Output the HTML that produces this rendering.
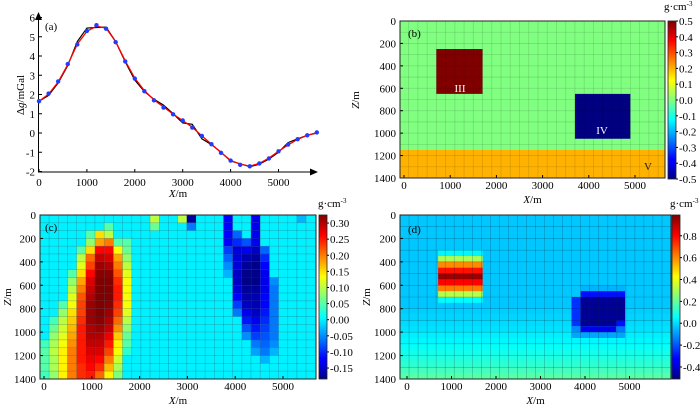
<!DOCTYPE html>
<html><head><meta charset="utf-8"><style>
html,body{margin:0;padding:0;background:#fff;}
svg{display:block;font-family:"Liberation Serif",serif;font-size:11px;}
</style></head><body>
<svg id="fig" width="700" height="406" viewBox="0 0 700 406" xmlns="http://www.w3.org/2000/svg">
<defs>
<linearGradient id="jetV" x1="0" y1="1" x2="0" y2="0">
<stop offset="0" stop-color="#000080"/><stop offset="0.11" stop-color="#0000ff"/><stop offset="0.125" stop-color="#0000ff"/><stop offset="0.375" stop-color="#00ffff"/><stop offset="0.625" stop-color="#ffff00"/><stop offset="0.875" stop-color="#ff0000"/><stop offset="1" stop-color="#800000"/>
</linearGradient>
</defs>
<g id="pa"></g>
<g id="pb"></g>
<g id="pc"></g>
<g id="pd"></g>
</svg>
<script>
// ---------- data ----------
const aX=[0,200,400,600,800,1000,1200,1400,1600,1800,2000,2200,2400,2600,2800,3000,3200,3400,3600,3800,4000,4200,4400,4600,4800,5000,5200,5400,5600,5800];
const aObserved=[1.65,2.05,2.68,3.58,4.6,5.3,5.6,5.42,4.72,3.72,2.83,2.17,1.7,1.32,0.97,0.65,0.28,-0.15,-0.58,-1.03,-1.43,-1.65,-1.73,-1.58,-1.32,-0.95,-0.6,-0.32,-0.12,0.03];
const aRed=[1.65,2.02,2.65,3.55,4.62,5.28,5.55,5.45,4.75,3.75,2.85,2.2,1.72,1.35,0.98,0.65,0.3,-0.15,-0.58,-1.02,-1.42,-1.62,-1.72,-1.58,-1.3,-0.95,-0.62,-0.33,-0.12,0.02];
const aBlack=[1.65,1.95,2.6,3.5,4.75,5.45,5.48,5.5,4.75,3.7,2.75,2.15,1.75,1.45,1.0,0.52,0.45,-0.3,-0.6,-1.0,-1.45,-1.6,-1.75,-1.62,-1.35,-1.0,-0.5,-0.3,-0.12,0.0];
const aXTicks=[0,1000,2000,3000,4000,5000];
const aYTicks=[-2,-1,0,1,2,3,4,5,6];
const zTicks=[0,200,400,600,800,1000,1200,1400];
// panel b model blocks: x0,x1,z0,z1,density
const bBlockX0=[-100,700,3700];
const bBlockX1=[5900,1700,4900];
const bBlockZ0=[1150,250,650];
const bBlockZ1=[1400,650,1050];
const bBlockRho=[0.2,0.5,-0.5];
const bBgRho=0.0;
const bCbTicks=[0.5,0.4,0.3,0.2,0.1,0.0,-0.1,-0.2,-0.3,-0.4,-0.5];
// panel c inversion grid (units 0.01 g/cm3), 21 rows x 30 cols
const cGrid=[
[0,0,0,0,0,0,0,0,0,0,0,0,10,0,0,10,-17,0,0,0,-12,0,0,-13,0,0,0,0,-3,0],
[0,0,0,0,0,0,0,5,0,0,0,0,6,0,0,0,-6,0,0,0,-12,0,0,-13,0,0,0,0,0,0],
[0,0,0,0,0,5,15,10,0,0,0,0,0,0,0,0,0,0,0,0,-12,-7,0,-13,0,0,0,0,0,0],
[0,0,0,0,0,8,18,20,5,5,0,0,0,0,0,0,0,0,0,0,-12,-10,-8,-13,0,0,0,0,0,0],
[0,0,0,0,5,15,26,26,13,6,0,0,0,0,0,0,0,0,0,0,-9,-14,-13,-15,-7,0,0,0,0,0],
[0,0,0,0,10,21,29,28,18,8,0,0,0,0,0,0,0,0,0,0,-7,-14,-16,-17,-10,0,0,0,0,0],
[0,0,0,0,12,23,31,30,20,10,0,0,0,0,0,0,0,0,0,0,-5,-14,-17,-18,-12,0,0,0,0,0],
[0,0,0,5,15,26,32,32,22,12,0,0,0,0,0,0,0,0,0,0,-3,-15,-18,-18,-13,0,0,0,0,0],
[0,0,0,8,18,28,33,33,24,13,0,0,0,0,0,0,0,0,0,0,0,-15,-18,-18,-13,-5,0,0,0,0],
[0,0,0,10,20,29,33,33,25,13,0,0,0,0,0,0,0,0,0,0,0,-14,-17,-17,-13,-6,0,0,0,0],
[0,0,0,12,22,30,34,33,25,13,0,0,0,0,0,0,0,0,0,0,0,-12,-16,-16,-12,-6,0,0,0,0],
[0,0,5,13,23,31,34,32,24,13,0,0,0,0,0,0,0,0,0,0,0,-9,-15,-16,-12,-6,0,0,0,0],
[0,0,8,15,23,31,33,31,23,12,0,0,0,0,0,0,0,0,0,0,0,-6,-13,-15,-11,-6,0,0,0,0],
[0,4,10,16,24,31,32,30,21,10,0,0,0,0,0,0,0,0,0,0,0,0,-11,-13,-10,-6,0,0,0,0],
[0,6,11,17,25,30,31,29,19,8,0,0,0,0,0,0,0,0,0,0,0,0,-8,-11,-9,-6,0,0,0,0],
[0,8,12,18,25,30,30,27,16,6,0,0,0,0,0,0,0,0,0,0,0,0,-5,-9,-8,-6,0,0,0,0],
[4,9,13,19,25,29,29,25,14,5,0,0,0,0,0,0,0,0,0,0,0,0,0,-6,-7,-5,0,0,0,0],
[5,10,14,20,25,28,28,23,13,3,0,0,0,0,0,0,0,0,0,0,0,0,0,-4,-6,-3,0,0,0,0],
[5,9,14,20,25,27,26,20,11,0,0,0,0,0,0,0,0,0,0,0,0,0,0,0,-3,0,0,0,0,0],
[5,9,14,20,24,26,24,17,9,0,0,0,0,0,0,0,0,0,0,0,0,0,0,0,0,0,0,0,0,0],
[4,8,14,20,24,25,21,14,7,0,0,0,0,0,0,0,0,0,0,0,0,0,0,0,0,0,0,0,0,0]
];
const cCbTicks=[0.30,0.25,0.20,0.15,0.10,0.05,0.00,-0.05,-0.10,-0.15];
// panel d background by 50 m row (units 0.01), plus anomaly rectangles
const dBgRow=[-3,-3,-3,-3,-3,-3,-3,-3,-3,-3,-3,-3,-3,-3,-3,-3,-2,-1,0,1,3,4,6,8,10,12,15,18];
const dRectX0=[700,700,700,700,700,700,700,700,700,3900,3700,3900,3700,3700,3900,4700,3900,4700];
const dRectX1=[1700,1700,1700,1700,1700,1700,1700,1700,1700,4900,4900,4900,3900,3900,4900,4900,4700,4900];
const dRectZ0=[300,350,400,450,500,550,600,650,700,600,1000,650,700,950,700,900,950,950];
const dRectZ1=[350,400,450,500,550,600,650,700,750,650,1050,700,950,1000,950,950,1000,1000];
const dRectRho=[0.04,0.30,0.60,0.78,0.95,0.80,0.62,0.32,0.05,-0.06,-0.08,-0.30,-0.25,-0.12,-0.48,-0.30,-0.35,-0.15];
const dCbTicks=[0.8,0.6,0.4,0.2,0.0,-0.2,-0.4];

// ---------- helpers ----------
const NS='http://www.w3.org/2000/svg';
function mk(parent,tag,attrs,txt){const e=document.createElementNS(NS,tag);for(const k in attrs)e.setAttribute(k,attrs[k]);if(txt!==undefined)e.textContent=txt;parent.appendChild(e);return e;}
function cl(v){return Math.max(0,Math.min(1,v));}
function jet(t){t=cl(t);const r=cl(1.5-Math.abs(4*t-3)),g=cl(1.5-Math.abs(4*t-2)),b=cl(1.5-Math.abs(4*t-1));return 'rgb('+Math.round(r*255)+','+Math.round(g*255)+','+Math.round(b*255)+')';}
function fmt(v,d){const s=v.toFixed(d);return (s==='-0.0'||s==='-0.00')?s.slice(1):s;}

// ---------- panel a ----------
(function(){
const g=document.getElementById('pa');
const ax=x=>39+x*0.0479, ay=v=>133-v*19.25;
let e=mk(g,'line',{x1:38.5,y1:172,x2:38.5,y2:18,stroke:'#000','stroke-width':1});

e=mk(g,'polygon',{points:'35,20 38.5,12 42,20',fill:'#000'});

e=mk(g,'line',{x1:38,y1:172,x2:312,y2:172,stroke:'#000','stroke-width':1});

e=mk(g,'polygon',{points:'310,168.5 318,172 310,175.5',fill:'#000'});

aYTicks.forEach(v=>{
 let t=mk(g,'line',{x1:39,x2:42,y1:ay(v),y2:ay(v),stroke:'#000'});
 
 t=mk(g,'text',{x:35,y:ay(v)+4,'text-anchor':'end'},String(v));
 
});
aXTicks.forEach(v=>{
 let t=mk(g,'line',{x1:ax(v),x2:ax(v),y1:172,y2:169,stroke:'#000'});
 
 t=mk(g,'text',{x:ax(v),y:186,'text-anchor':'middle'},String(v));
 
});
e=mk(g,'text',{x:178,y:197,'text-anchor':'middle'});

mk(e,'tspan',{'font-style':'italic'},'X');mk(e,'tspan',{},'/m');
e=mk(g,'text',{x:0,y:0,'text-anchor':'middle',transform:'translate(24,95) rotate(-90)'});

mk(e,'tspan',{},'Δ');mk(e,'tspan',{'font-style':'italic'},'g');mk(e,'tspan',{},'/mGal');
e=mk(g,'text',{x:45,y:30},'(a)');

e=mk(g,'polyline',{points:aX.map((x,i)=>ax(x)+','+ay(aBlack[i])).join(' '),fill:'none',stroke:'#000','stroke-width':1.2});

e=mk(g,'polyline',{points:aX.map((x,i)=>ax(x)+','+ay(aRed[i])).join(' '),fill:'none',stroke:'#ff0000','stroke-width':1.3});

aX.forEach((x,i)=>{
 const c=mk(g,'circle',{cx:ax(x),cy:ay(aObserved[i]),r:2.2,fill:'#1f3cff'});
 
 
});
})();

function frameAxes(g,o){
 zTicks.forEach(z=>{
  let t=mk(g,'line',{x1:o.left,x2:o.left+3,y1:o.sz(z),y2:o.sz(z),stroke:'#000'});
  
  t=mk(g,'text',{x:o.left-4,y:o.sz(z)+4,'text-anchor':'end'},String(z));
  
 });
 aXTicks.forEach(x=>{
  let t=mk(g,'line',{x1:o.sx(x),x2:o.sx(x),y1:o.bottom,y2:o.bottom-3,stroke:'#000'});
  
  t=mk(g,'text',{x:o.sx(x),y:o.xlabY,'text-anchor':'middle'},String(x));
  
 });
 let r=mk(g,'rect',{x:o.left,y:o.top,width:o.right-o.left,height:o.bottom-o.top,fill:'none',stroke:'#222','stroke-width':1});
 
 let e=mk(g,'text',{x:(o.left+o.right)/2,y:o.xlabY+14,'text-anchor':'middle'});
 
 mk(e,'tspan',{'font-style':'italic'},'X');mk(e,'tspan',{},'/m');
 e=mk(g,'text',{x:0,y:0,'text-anchor':'middle',transform:'translate('+o.titleX+','+o.titleY+') rotate(-90)'});
 
 mk(e,'tspan',{'font-style':'italic'},'Z');mk(e,'tspan',{},'/m');
 e=mk(g,'text',{x:o.labX,y:o.labY},o.label);
 
}
function colorbar(g,o){
 let r=mk(g,'rect',{x:o.x,y:o.top,width:8,height:o.bottom-o.top,fill:'url(#jetV)',stroke:'#222','stroke-width':0.8});
 
 const sy=v=>o.bottom-(v-o.vmin)/(o.vmax-o.vmin)*(o.bottom-o.top);
 o.ticks.forEach(v=>{
  let t=mk(g,'line',{x1:o.x+8,x2:o.x+10,y1:sy(v),y2:sy(v),stroke:'#000'});
  
  t=mk(g,'text',{x:o.x+11,y:sy(v)+4},fmt(v,o.dec));
  
 });
 let e=mk(g,'text',{x:o.unitX,y:o.unitY});
 
 mk(e,'tspan',{},'g·cm');mk(e,'tspan',{'font-size':'7','dy':'-4'},'-3');
}

// ---------- panel b ----------
(function(){
const g=document.getElementById('pb');
const L=400,R=665,T=21,B=178;
const sx=x=>404+x*0.0462, sz=z=>T+z*(B-T)/1400;
const vmin=-0.5,vmax=0.5,col=v=>jet((v-vmin)/(vmax-vmin));
const clip=mk(g,'clipPath',{id:'clipB'});mk(clip,'rect',{x:L,y:T,width:R-L,height:B-T});
const gg=mk(g,'g',{'clip-path':'url(#clipB)'});
let e=mk(gg,'rect',{x:L,y:T,width:R-L,height:B-T,fill:col(bBgRho)});

const names=['layer-v','block-iii','block-iv'];
bBlockX0.forEach((x0,i)=>{
 const r=mk(gg,'rect',{x:sx(x0),y:sz(bBlockZ0[i]),width:sx(bBlockX1[i])-sx(x0),height:sz(bBlockZ1[i])-sz(bBlockZ0[i]),fill:col(bBlockRho[i])});
 
 
});
for(let x=-100;x<=5900;x+=200){mk(gg,'line',{x1:sx(x),x2:sx(x),y1:T,y2:B,stroke:'rgba(0,0,0,0.13)','stroke-width':0.8});}
for(let z=0;z<=1400;z+=100){mk(gg,'line',{x1:L,x2:R,y1:sz(z),y2:sz(z),stroke:'rgba(0,0,0,0.13)','stroke-width':0.8});}
e=mk(g,'text',{x:460,y:92,'text-anchor':'middle',fill:'#fff'},'III');
e=mk(g,'text',{x:602,y:134,'text-anchor':'middle',fill:'#fff'},'IV');
e=mk(g,'text',{x:648,y:170,'text-anchor':'middle',fill:'#222'},'V');
frameAxes(g,{left:L,right:R,top:T,bottom:B,sx,sz,xlabY:189,titleX:359,titleY:100,label:'(b)',labX:408,labY:37});
colorbar(g,{x:668,top:21,bottom:179,vmin,vmax,ticks:bCbTicks,dec:1,unitX:664,unitY:10});
})();

// ---------- panel c ----------
(function(){
const g=document.getElementById('pc');
const L=40,R=316,T=215,B=379;
const sx=x=>44+x*0.0478, sz=z=>T+z*(B-T)/1400;
const vmin=-0.184,vmax=0.325,col=v=>jet((v-vmin)/(vmax-vmin));
const clip=mk(g,'clipPath',{id:'clipC'});mk(clip,'rect',{x:L,y:T,width:R-L,height:B-T});
const gg=mk(g,'g',{'clip-path':'url(#clipC)'});
const x0=-84,cw=192,rh=1400/cGrid.length;
cGrid.forEach((row,ri)=>row.forEach((v,ci)=>{
 const r=mk(gg,'rect',{x:sx(x0+ci*cw),y:sz(ri*rh),width:sx(x0+(ci+1)*cw)-sx(x0+ci*cw),height:sz((ri+1)*rh)-sz(ri*rh),fill:col(v/100),stroke:'rgba(0,60,80,0.25)','stroke-width':0.6});
 
 
}));
frameAxes(g,{left:L,right:R,top:T,bottom:B,sx,sz,xlabY:390,titleX:11,titleY:297,label:'(c)',labX:45,labY:231});
colorbar(g,{x:319,top:215,bottom:379,vmin,vmax,ticks:cCbTicks,dec:2,unitX:318,unitY:207});
})();

// ---------- panel d ----------
(function(){
const g=document.getElementById('pd');
const L=400,R=671,T=215,B=379;
const sx=x=>407+x*0.0445, sz=z=>T+z*(B-T)/1400;
const vmin=-0.51,vmax=0.99,col=v=>jet((v-vmin)/(vmax-vmin));
const clip=mk(g,'clipPath',{id:'clipD'});mk(clip,'rect',{x:L,y:T,width:R-L,height:B-T});
const gg=mk(g,'g',{'clip-path':'url(#clipD)'});
const rh=1400/dBgRow.length;
dBgRow.forEach((v,ri)=>{
 const r=mk(gg,'rect',{x:L,y:sz(ri*rh),width:R-L,height:sz((ri+1)*rh)-sz(ri*rh)+0.3,fill:col(v/100)});
 
 
});
dRectX0.forEach((x0,i)=>{
 const r=mk(gg,'rect',{x:sx(x0),y:sz(dRectZ0[i]),width:sx(dRectX1[i])-sx(x0),height:sz(dRectZ1[i])-sz(dRectZ0[i]),fill:col(dRectRho[i])});
 
 
});
for(let x=-157;x<=6000;x+=203){mk(gg,'line',{x1:sx(x),x2:sx(x),y1:T,y2:B,stroke:'rgba(0,40,60,0.35)','stroke-width':0.6});}
for(let z=0;z<=1400;z+=100){mk(gg,'line',{x1:L,x2:R,y1:sz(z),y2:sz(z),stroke:'rgba(0,40,60,0.35)','stroke-width':0.6});}
frameAxes(g,{left:L,right:R,top:T,bottom:B,sx,sz,xlabY:390,titleX:370,titleY:297,label:'(d)',labX:408,labY:233});
colorbar(g,{x:672,top:215,bottom:379,vmin,vmax,ticks:dCbTicks,dec:1,unitX:670,unitY:207});
})();
</script>
</body></html>
